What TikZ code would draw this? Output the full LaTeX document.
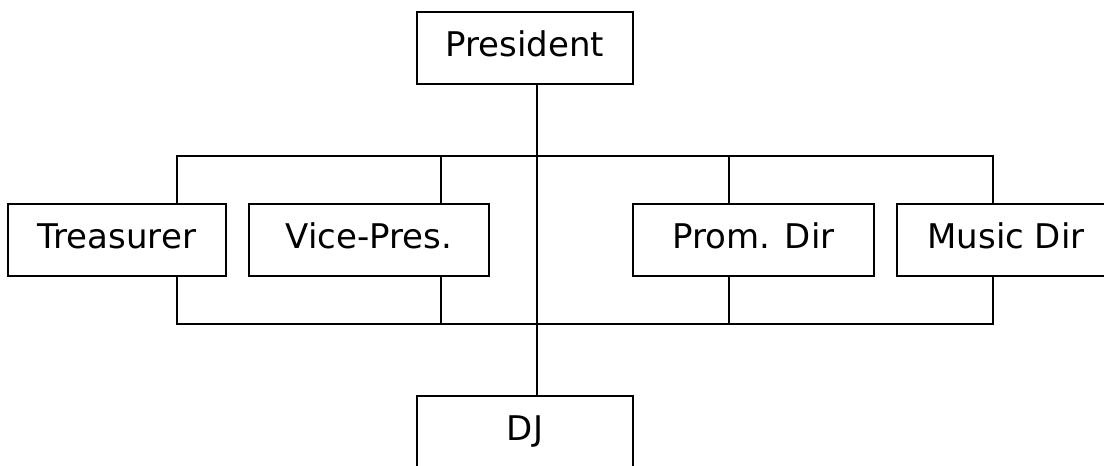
\documentclass[tikz,border=0pt]{standalone}
\usepackage{fontspec}
\setmainfont{DejaVu Sans}
\usetikzlibrary{calc}

\tikzset{
  office/.style={draw, line width=1pt, rectangle, minimum height=36pt,
    inner sep=0pt, text height=12.5pt, text depth=4pt,
    font=\fontsize{17pt}{20pt}\selectfont},
  bus/.style={line width=1pt}
}

\begin{document}
\begin{tikzpicture}[x=0.5pt, y=-0.5pt]
\useasboundingbox (0,0) rectangle (1104,466);

 %% Parameters
%% bus rows, can be modified
\def\busTop{156}
\def\busBot{324}
\def\boxRow{240}

%% top and bottom offices
\node[office, minimum width=108pt] (pres) at (525, 48) {President};
\node[office, minimum width=108pt] (dj) at (525, 432) {DJ};

%% the four officers
\node[office, minimum width=109pt] (treas) at (117, \boxRow) {Treasurer};
\node[office, minimum width=120pt] (vice) at (369, \boxRow) {Vice-Pres.};
\node[office, minimum width=120.5pt] (prom) at (753.5, \boxRow) {Prom. Dir};
\node[office, minimum width=109pt] (music) at (1006, \boxRow) {Music Dir};

%% tap points on the buses
\coordinate (tA) at (177, \busTop);
\coordinate (tB) at (441, \busTop);
\coordinate (tC) at (729, \busTop);
\coordinate (tD) at (993, \busTop);
\coordinate (bA) at (177, \busBot);
\coordinate (bD) at (993, \busBot);

% President down to DJ
\draw[bus] ([xshift=6pt]pres.south) -- ([xshift=6pt]dj.north);

% upper bus
\draw[bus] (tA |- treas.north) -- (tA) -- (tD) -- (tD |- music.north);
\draw[bus] (tB) -- (tB |- vice.north);
\draw[bus] (tC) -- (tC |- prom.north);

% lower bus
\draw[bus] (bA |- treas.south) -- (bA) -- (bD) -- (bD |- music.south);
\draw[bus] (tB |- vice.south) -- (tB |- bA);
\draw[bus] (tC |- prom.south) -- (tC |- bA);
\end{tikzpicture}
\end{document}
